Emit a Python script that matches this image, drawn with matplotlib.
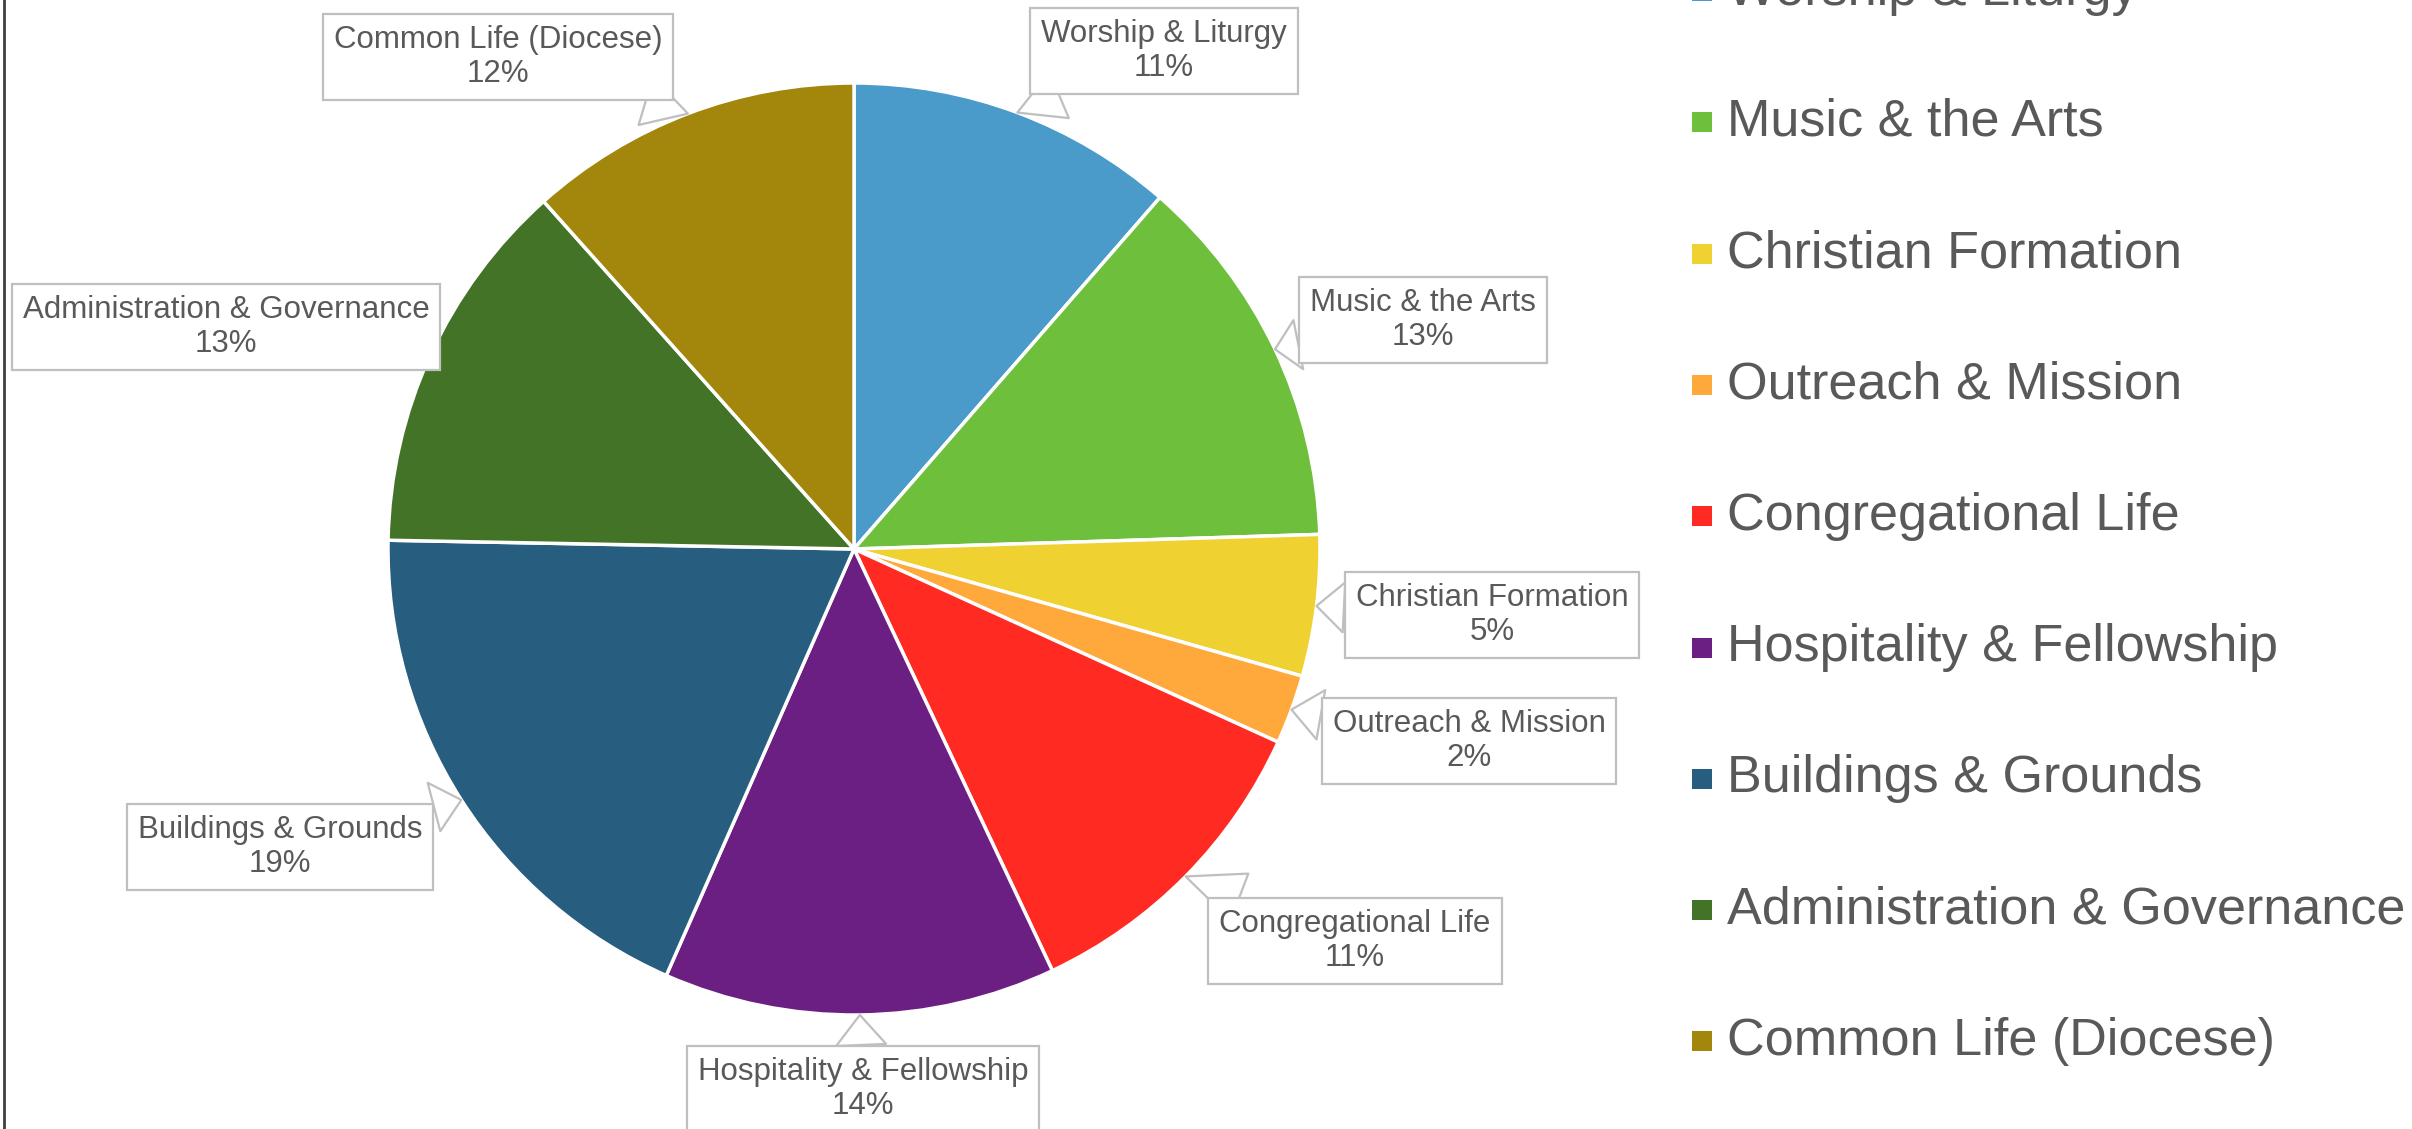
import matplotlib
matplotlib.use("Agg")
import matplotlib.pyplot as plt
import numpy as np
from matplotlib.lines import Line2D
from matplotlib.patches import Rectangle

# ---- data ----
categories = ["Worship & Liturgy", "Music & the Arts", "Christian Formation",
              "Outreach & Mission", "Congregational Life", "Hospitality & Fellowship",
              "Buildings & Grounds", "Administration & Governance", "Common Life (Diocese)"]
values = [11.4, 13.1, 4.9, 2.4, 11.2, 13.6, 18.7, 13.1, 11.6]
colors = ["#4A9ACA", "#6EBF3B", "#F0D132", "#FFA93C", "#FF2B23",
          "#6B1F83", "#275E7F", "#437326", "#A2870C"]

# label box centres (figure pixels, origin bottom-left)
label_pos = [(1164, 1078), (1423, 809), (1492, 514), (1469, 388), (1355, 188),
             (863, 40), (280, 282), (226, 802), (498, 1072)]

W, H = 2412, 1129
DPI = 100
plt.rcParams['font.family'] = ['Liberation Sans', 'DejaVu Sans']
fig = plt.figure(figsize=(W / DPI, H / DPI), dpi=DPI)
fig.patch.set_facecolor("white")

cx, cy, R = 854, 1129 - 549, 466
ax = fig.add_axes([(cx - R) / W, (cy - R) / H, 2 * R / W, 2 * R / H])
ax.set_aspect('equal')
wedges, _ = ax.pie(values, colors=colors, startangle=90, counterclock=False, radius=1,
                   wedgeprops=dict(edgecolor='white', linewidth=2.5))
ax.set_xlim(-1, 1)
ax.set_ylim(-1, 1)
ax.axis('off')

total = float(sum(values))
cum = np.cumsum([0] + values[:-1])
text_col = "#595959"
for i, (cat, v) in enumerate(zip(categories, values)):
    mid = (cum[i] + v / 2) / total
    ang = np.deg2rad(90 - 360 * mid)
    xy = (np.cos(ang), np.sin(ang))
    pct = int(round(v / total * 100))
    ax.annotate(f"{cat}\n{pct}%", xy=xy, xycoords='data',
                xytext=label_pos[i], textcoords='figure pixels',
                ha='center', va='center', fontsize=22.5, color=text_col,
                linespacing=1.2,
                bbox=dict(boxstyle='square,pad=0.35', fc='white', ec='#BFBFBF', lw=1.6),
                arrowprops=dict(arrowstyle='wedge,tail_width=1.6', fc='white',
                                ec='#BFBFBF', lw=1.6, shrinkA=0, shrinkB=0),
                annotation_clip=False, zorder=5)

# legend (manual)
leg_y0 = 1129 - (-9)
leg_step = 131.3
for i, (cat, col) in enumerate(zip(categories, colors)):
    yc = leg_y0 - i * leg_step
    fig.patches.append(Rectangle(((1692) / W, (yc - 10) / H), 20 / W, 20 / H,
                                 transform=fig.transFigure, fc=col, ec='none'))
    fig.text(1727 / W, yc / H, cat, fontsize=37.5, color=text_col,
             ha='left', va='center')

# left border line
fig.add_artist(Line2D([4 / W, 4 / W], [0, 1], transform=fig.transFigure,
                      color='#404040', lw=2))

fig.savefig("out.png", dpi=DPI)
